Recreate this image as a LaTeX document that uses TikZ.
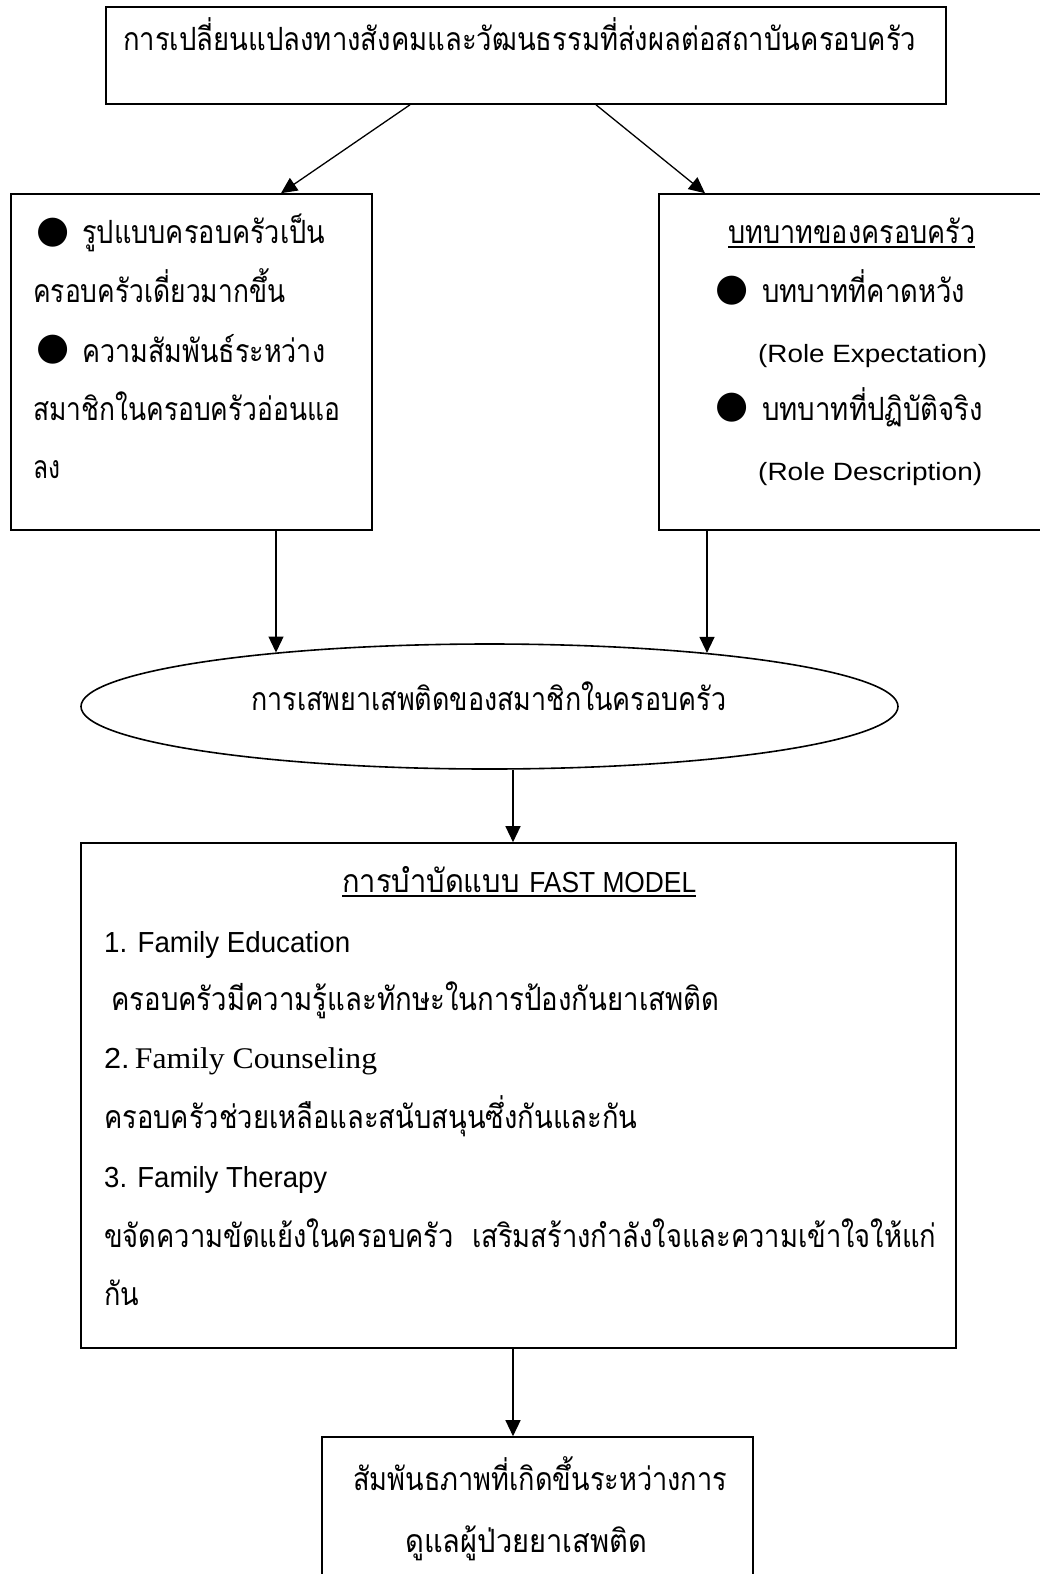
\documentclass[tikz,border=0pt]{standalone}
\usepackage{fontspec}
\usepackage{graphicx}
\usetikzlibrary{arrows.meta,shapes.geometric}
\setmainfont{Liberation Sans}
\newfontfamily\thaifont[Script=Thai]{Loma}
\newfontfamily\symfont{DejaVu Sans}
\newfontfamily\serifont{Liberation Serif}
\newsavebox\fitbox
\newdimen\fitdim
\newcommand\fitto[2]{\sbox\fitbox{#2}\fitdim=\wd\fitbox\pgfmathsetmacro\fitsx{#1/\fitdim}\scalebox{\fitsx}[1]{\usebox\fitbox}}
\newcommand\thtxt{\thaifont\fontsize{32}{32}\selectfont}
\newcommand\latxt{\rmfamily\fontsize{25}{25}\selectfont}
\newcommand\lbtxt{\rmfamily\fontsize{29}{29}\selectfont}
\newcommand\setxt{\serifont\fontsize{30}{30}\selectfont}
\newcommand\bultxt{\symfont\fontsize{38}{38}\selectfont ●}
\begin{document}
\begin{tikzpicture}[x=1pt,y=-1pt,
  box/.style={draw, line width=1.6pt, rectangle, inner sep=0pt},
  oval/.style={draw, line width=1.6pt, ellipse, inner sep=0pt},
  txt/.style={anchor=base west, inner sep=0pt},
  bul/.style={anchor=center, inner sep=0pt},
  arr/.style={line width=1.3pt, -{Triangle[length=16pt,width=15pt]}},
  uline/.style={line width=1.1pt}]
\useasboundingbox (0,0) rectangle (1039,1574);
\fill[white] (0,0) rectangle (1039,1574);

% boxes
\node[box, minimum width=840pt, minimum height=97pt] (top) at (526,55.5) {};
\node[box, minimum width=361pt, minimum height=336pt] (lbox) at (191.5,362) {};
\node[box, minimum width=386pt, minimum height=336pt] (rbox) at (852,362) {};
\node[oval, minimum width=817pt, minimum height=125pt] (ell) at (489.5,706.5) {};
\node[box, minimum width=875pt, minimum height=505pt] (fast) at (518.5,1095.5) {};
\node[box, minimum width=431pt, minimum height=163pt] (bot) at (537.5,1518.5) {};

% top text
\node[txt] (t1) at (123,50) {\fitto{793}{\thtxt การเปลี่ยนแปลงทางสังคมและวัฒนธรรมที่ส่งผลต่อสถาบันครอบครัว}};

% left box text
\node[bul] (lb1) at (53,233) {\bultxt};
\node[txt] (l1) at (82,243) {\fitto{243}{\thtxt รูปแบบครอบครัวเป็น}};
\node[txt] (l2) at (33,302) {\fitto{252}{\thtxt ครอบครัวเดี่ยวมากขึ้น}};
\node[bul] (lb2) at (53,350) {\bultxt};
\node[txt] (l3) at (82,362) {\fitto{243}{\thtxt ความสัมพันธ์ระหว่าง}};
\node[txt] (l4) at (33,420) {\fitto{307}{\thtxt สมาชิกในครอบครัวอ่อนแอ}};
\node[txt] (l5) at (33,478) {\fitto{27}{\thtxt ลง}};

% right box text
\node[txt] (r1) at (728,243) {\fitto{247}{\thtxt บทบาทของครอบครัว}};
\draw[uline] ([yshift=-4pt]r1.base west) -- ([yshift=-4pt]r1.base east);
\node[bul] (rb1) at (732,291) {\bultxt};
\node[txt] (r2) at (762,302) {\fitto{203}{\thtxt บทบาทที่คาดหวัง}};
\node[txt] (r3) at (758,362) {\fitto{229}{\latxt (Role Expectation)}};
\node[bul] (rb2) at (732,408) {\bultxt};
\node[txt] (r4) at (762,420) {\fitto{221}{\thtxt บทบาทที่ปฏิบัติจริง}};
\node[txt] (r5) at (758,480) {\fitto{224}{\latxt (Role Description)}};

% ellipse text
\node[txt] (e1) at (251,710) {\fitto{475}{\thtxt การเสพยาเสพติดของสมาชิกในครอบครัว}};

% FAST box text
\node[txt] (f1) at (342,892) {\fitto{354}{\thtxt การบำบัดแบบ {\lbtxt FAST MODEL}}};
\draw[uline] ([yshift=-4pt]f1.base west) -- ([yshift=-4pt]f1.base east);
\node[txt] (f2) at (104,952) {\fitto{246}{\lbtxt 1. Family Education}};
\node[txt] (f3) at (111,1010) {\fitto{608}{\thtxt ครอบครัวมีความรู้และทักษะในการป้องกันยาเสพติด}};
\node[txt] (f4) at (104,1068) {\fitto{273}{\lbtxt 2.\,{\setxt Family Counseling}}};
\node[txt] (f5) at (104,1128) {\fitto{533}{\thtxt ครอบครัวช่วยเหลือและสนับสนุนซึ่งกันและกัน}};
\node[txt] (f6) at (104,1187) {\fitto{223}{\lbtxt 3. Family Therapy}};
\node[txt] (f7) at (104,1247) {\fitto{832}{\thtxt ขจัดความขัดแย้งในครอบครัว\ \ เสริมสร้างกำลังใจและความเข้าใจให้แก่}};
\node[txt] (f8) at (104,1305) {\fitto{35}{\thtxt กัน}};

% bottom box text
\node[txt] (g1) at (353,1490) {\fitto{374}{\thtxt สัมพันธภาพที่เกิดขึ้นระหว่างการ}};
\node[txt] (g2) at (405,1552) {\fitto{242}{\thtxt ดูแลผู้ป่วยยาเสพติด}};

% connectors
\draw[arr] ([xshift=-116pt]top.south) -- ([xshift=89.5pt]lbox.north);
\draw[arr] ([xshift=70pt]top.south) -- ([xshift=-147pt]rbox.north);
\coordinate (ls) at ([xshift=84.5pt]lbox.south);
\coordinate (le) at ([xshift=-213.5pt,yshift=54pt]ell.center);
\draw[arr] (ls) -- (ls |- le);
\coordinate (rs) at ([xshift=-145pt]rbox.south);
\coordinate (re) at ([xshift=217.5pt,yshift=53.6pt]ell.center);
\draw[arr] (rs) -- (rs |- re);
\coordinate (e5) at ([xshift=23.5pt]ell.south);
\draw[arr] (e5) -- (e5 |- fast.north);
\coordinate (f6s) at ([xshift=-5.5pt]fast.south);
\draw[arr] (f6s) -- (f6s |- bot.north);
\end{tikzpicture}
\end{document}
